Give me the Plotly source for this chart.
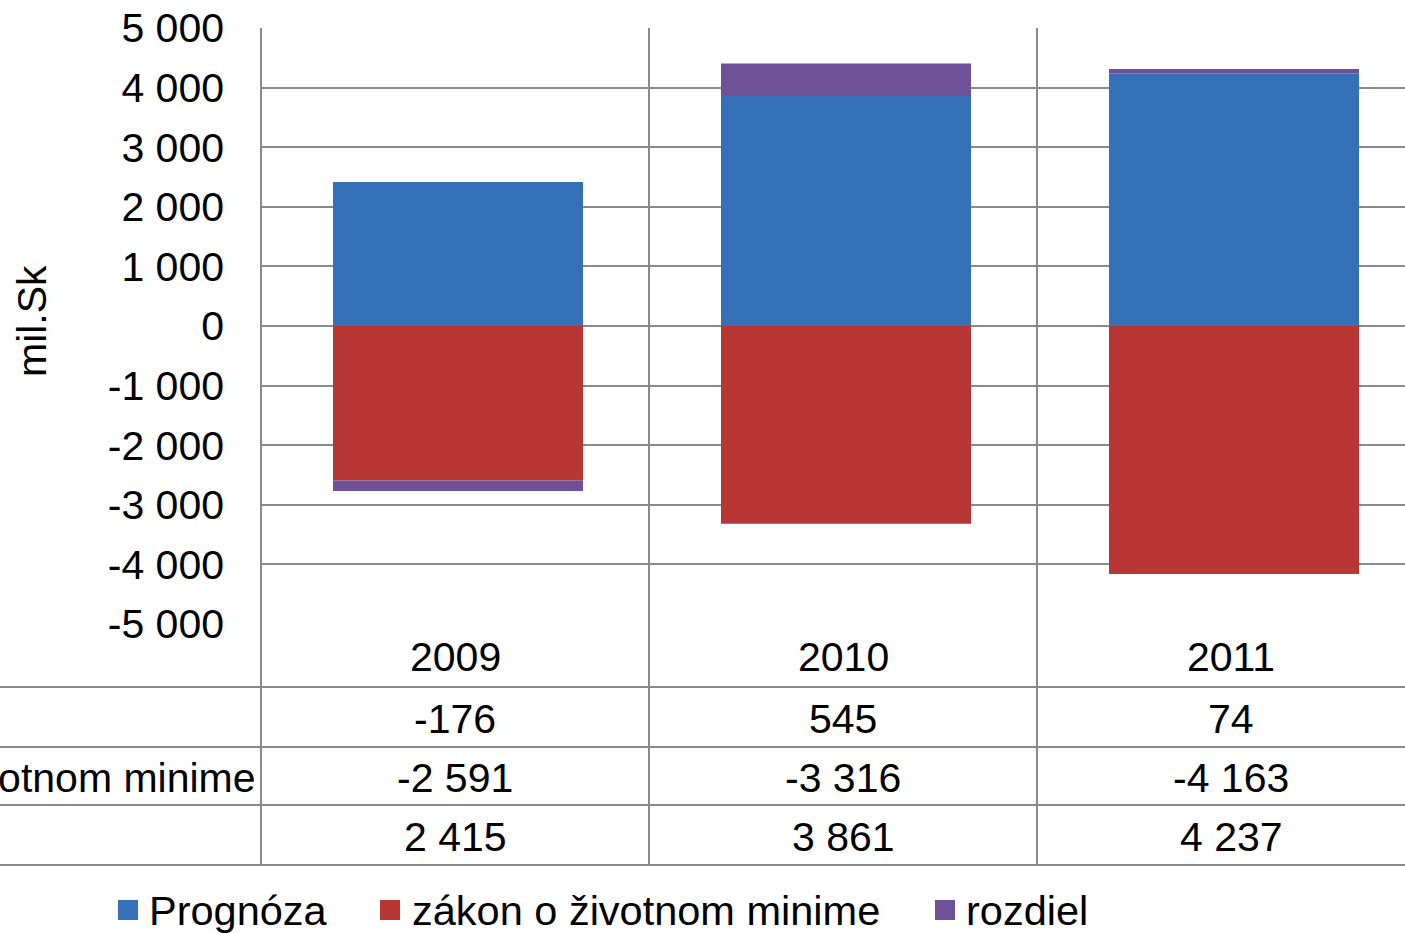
import plotly.graph_objects as go

# ---- data ----
years = ["2009", "2010", "2011"]
prognoza = [2415, 3861, 4237]
zakon = [-2591, -3316, -4163]
rozdiel = [-176, 545, 74]
series_names = ["Prognóza", "zákon o životnom minime", "rozdiel"]
series_colors = ["#3670b6", "#b83734", "#6f5197"]
y_ticks = [5000, 4000, 3000, 2000, 1000, 0, -1000, -2000, -3000, -4000, -5000]
y_title = "mil.Sk"

W, H = 1405, 933
L, T, B = 261, 28, 624          # plot area pixels
PW, PH = W - L, B - T
CAT_W = 388.0
BAR_W = 250 / CAT_W

def px(xp):
    return (xp - L) / PW

def py(yp):
    return (B - yp) / PH

def fmt(v):
    s = f"{abs(v):,}".replace(",", " ")
    return ("-" if v < 0 else "") + s

FONT = "Liberation Sans, Arial, sans-serif"
GRID = "#8a8a8a"
FS = 41

fig = go.Figure()
for name, vals, col in zip(series_names, [prognoza, zakon, rozdiel], series_colors):
    fig.add_trace(go.Bar(x=list(range(len(years))), y=vals, name=name,
                         width=BAR_W, offset=-BAR_W / 2 + 3 / CAT_W,
                         marker=dict(color=col, line=dict(width=0)),
                         showlegend=False))

shapes = []
annotations = []

# vertical separators through chart + table
for i in range(len(years) - 1):
    shapes.append(dict(type="line", xref="x", yref="paper", x0=i + 0.5, x1=i + 0.5,
                       y0=py(865), y1=1, line=dict(color=GRID, width=2), layer="below"))
# left axis line
shapes.append(dict(type="line", xref="paper", yref="paper", x0=0, x1=0,
                   y0=py(865), y1=1, line=dict(color=GRID, width=2), layer="below"))
# table horizontal lines
for yl in [687, 747, 805, 865]:
    shapes.append(dict(type="line", xref="paper", yref="paper", x0=px(0), x1=1,
                       y0=py(yl), y1=py(yl), line=dict(color=GRID, width=2)))

# table: year row and value rows
row_centers = [657, 719, 778, 837]
for i, yr in enumerate(years):
    annotations.append(dict(x=i, y=py(row_centers[0]), xref="x", yref="paper", text=yr,
                            showarrow=False, xanchor="center", yanchor="middle",
                            font=dict(size=FS, family=FONT, color="black")))
rows = [(series_names[2], rozdiel), (series_names[1], zakon), (series_names[0], prognoza)]
for r, (nm, vals) in enumerate(rows):
    yc = row_centers[r + 1]
    if r == 1:
        # only the long row label reaches into the visible area
        annotations.append(dict(x=px(258), y=py(yc), xref="paper", yref="paper", text=nm,
                                showarrow=False, xanchor="right", yanchor="middle",
                                font=dict(size=FS, family=FONT, color="black")))
    for i, v in enumerate(vals):
        annotations.append(dict(x=i, y=py(yc), xref="x", yref="paper", text=fmt(v),
                                showarrow=False, xanchor="center", yanchor="middle",
                                font=dict(size=FS, family=FONT, color="black")))

# y axis title
annotations.append(dict(x=px(32), y=py(321), xref="paper", yref="paper", text=y_title,
                        textangle=-90, showarrow=False, xanchor="center", yanchor="middle",
                        font=dict(size=FS, family=FONT, color="black")))

# manual legend
leg_sq = [118, 380, 935]
leg_tx = [147, 410, 964]
for nm, col, sx, tx in zip(series_names, series_colors, leg_sq, leg_tx):
    shapes.append(dict(type="rect", xref="paper", yref="paper", x0=px(sx), x1=px(sx + 20),
                       y0=py(920), y1=py(900), fillcolor=col, line=dict(width=0)))
    annotations.append(dict(x=px(tx), y=py(910), xref="paper", yref="paper", text=nm,
                            showarrow=False, xanchor="left", yanchor="middle",
                            font=dict(size=41.5, family=FONT, color="black")))

fig.update_layout(
    width=W, height=H,
    margin=dict(l=L, r=0, t=T, b=H - B, pad=0),
    paper_bgcolor="white", plot_bgcolor="white",
    barmode="relative",
    shapes=shapes, annotations=annotations,
    font=dict(family=FONT, size=FS, color="black"),
    xaxis=dict(range=[-0.5, -0.5 + PW / CAT_W], showticklabels=False, showgrid=False,
               zeroline=False, showline=False, ticks=""),
    yaxis=dict(range=[-5000, 5000], tickvals=y_ticks, ticktext=[fmt(v) for v in y_ticks],
               showgrid=True, gridcolor=GRID, gridwidth=2, zeroline=False, showline=False,
               ticks="", ticklabelstandoff=36,
               tickfont=dict(size=FS, family=FONT, color="black")),
)

fig.write_html("out.html", config={"displayModeBar": False},
               post_script="document.body.style.margin='0';document.body.style.overflow='hidden';")
